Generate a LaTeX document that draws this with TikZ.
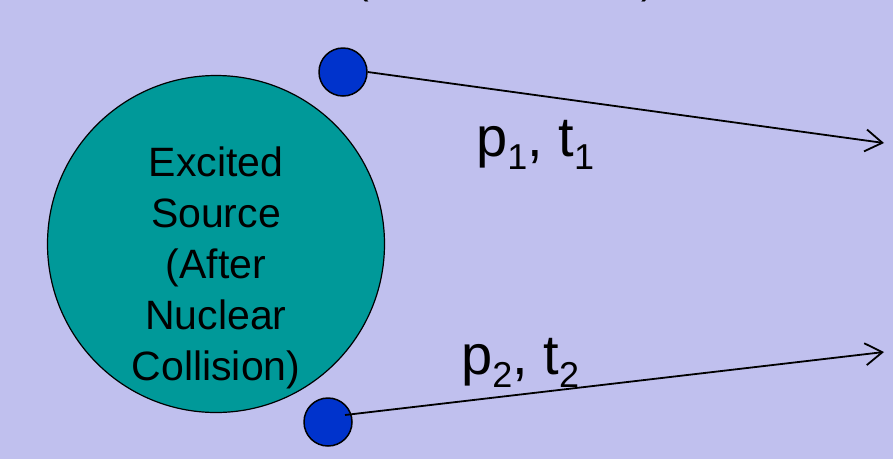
\documentclass[tikz,border=0pt]{standalone}
\usepackage{fontspec}
\setmainfont{Liberation Sans}
\usetikzlibrary{arrows.meta}
\definecolor{bgc}{RGB}{192,192,238}
\definecolor{srcc}{RGB}{0,153,153}
\definecolor{dotc}{RGB}{0,51,204}
\newcommand\mysub[1]{\raisebox{-13pt}{\fontsize{36}{36}\selectfont #1}}
\tikzset{
  big/.style={font=\fontsize{41}{51}\selectfont},
  lab/.style={font=\fontsize{56}{60}\selectfont, inner sep=0pt},
  dot/.style={circle, draw=black, line width=1.5pt, fill=dotc, minimum size=48pt, inner sep=0pt},
  ray/.style={line width=1.8pt, -{Straight Barb[length=17pt,width=22pt,line width=1.8pt]}},
}
\begin{document}
\begin{tikzpicture}[x=1pt,y=-1pt]
\clip (0,0) rectangle (893,459);
\fill[bgc] (0,0) rectangle (893,459);
\node[big, anchor=base] (lp) at (362,-7) {(};
\node[big, anchor=base] (rp) at (648,-7) {)};
\node[circle, draw=black, line width=1.2pt, fill=srcc, minimum size=337pt, inner sep=0pt] (src) at (216,244) {};
\node[big, align=center, text width=300pt] (srctext) at (216,268) {Excited\\Source\\(After\\Nuclear\\Collision)};
\node[dot] (d1) at (343,72) {};
\node[dot] (d2) at (328,422) {};
\coordinate (e1) at (884,143);
\coordinate (e2) at (884,352);
\coordinate (s2) at (345,415);
\draw[ray] (d1.east) -- (e1);
\draw[ray] (s2) -- (e2);
\node[lab, anchor=base west] (l1) at (476,156) {p\mysub{1}, t\mysub{1}};
\node[lab, anchor=base west] (l2) at (461,374) {p\mysub{2}, t\mysub{2}};
\end{tikzpicture}
\end{document}
